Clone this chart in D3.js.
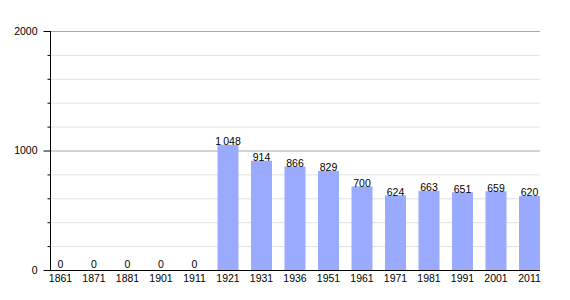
<!DOCTYPE html>
<html><head><meta charset="utf-8">
<script src="https://cdn.jsdelivr.net/npm/d3@7"></script>
<style>body{margin:0;background:#fff}svg{display:block}text{font-family:"Liberation Sans",Arial,sans-serif}</style>
</head><body>
<svg id="c" width="570" height="300"></svg>
<script>
const years = ["1861","1871","1881","1901","1911","1921","1931","1936","1951","1961","1971","1981","1991","2001","2011"];
const population = [0,0,0,0,0,1048,914,866,829,700,624,663,651,659,620];
const yTicks = [0,1000,2000];

const svg = d3.select("#c");
const L = 50, R = 540, T = 31, B = 270;
const x = d3.scaleBand().domain(years).range([L, R]).paddingInner(0.373).paddingOuter(0);
const y = d3.scaleLinear().domain([0, 2000]).range([B, T]);

const minor = d3.range(200, 2001, 200).filter(v => v % 1000 !== 0);
svg.append("g").selectAll("line").data(minor).join("line")
  .attr("x1", L).attr("x2", R).attr("y1", d => y(d)+0.5).attr("y2", d => y(d)+0.5)
  .attr("stroke", "#e2e2e2").attr("stroke-width", 1);
svg.append("g").selectAll("line").data([1000,2000]).join("line")
  .attr("x1", L).attr("x2", R).attr("y1", d => y(d)+0.5).attr("y2", d => y(d)+0.5)
  .attr("stroke", "#a8a8a8").attr("stroke-width", 1);

svg.append("g").selectAll("rect").data(years).join("rect")
  .attr("x", d => x(d)).attr("width", x.bandwidth())
  .attr("y", (d,i) => y(population[i])).attr("height", (d,i) => B - y(population[i]))
  .attr("fill", "#99aaff");

const fmt = v => d3.format(",")(v).replace(/,/g, "\u2009");
svg.append("g").selectAll("text").data(years).join("text")
  .attr("x", d => x(d) + x.bandwidth()/2).attr("y", (d,i) => Math.min(y(population[i]) + 0.5, B - 2))
  .attr("text-anchor", "middle").attr("font-size", 10.5).attr("fill", "#000")
  .text((d,i) => fmt(population[i]));

// y axis
const yAxis = d3.axisLeft(y).tickValues(yTicks).tickSize(7).tickPadding(6).tickFormat(d => String(d));
const ga = svg.append("g").attr("transform", `translate(${L+0.5},0)`).call(yAxis);
ga.select(".domain").remove();
ga.selectAll("line").attr("stroke", "#000");
ga.selectAll("text").attr("font-size", 10.5).attr("font-family", "Liberation Sans, Arial, sans-serif").attr("fill", "#000");
const yMinor = d3.axisLeft(y).tickValues(minor).tickSize(3).tickFormat("");
const gm = svg.append("g").attr("transform", `translate(${L+0.5},0)`).call(yMinor);
gm.select(".domain").remove();
gm.selectAll("line").attr("stroke", "#000");
svg.append("line").attr("x1", L+0.5).attr("x2", L+0.5).attr("y1", T).attr("y2", B).attr("stroke", "#000");

// x axis
const xAxis = d3.axisBottom(x).tickSize(0).tickPadding(4);
const gx = svg.append("g").attr("transform", `translate(0,${B+0.5})`).call(xAxis);
gx.select(".domain").remove();
gx.selectAll("text").attr("font-size", 10.5).attr("font-family", "Liberation Sans, Arial, sans-serif").attr("fill", "#000");
svg.append("line").attr("x1", L).attr("x2", R).attr("y1", B+0.5).attr("y2", B+0.5).attr("stroke", "#000");
</script>
</body></html>
